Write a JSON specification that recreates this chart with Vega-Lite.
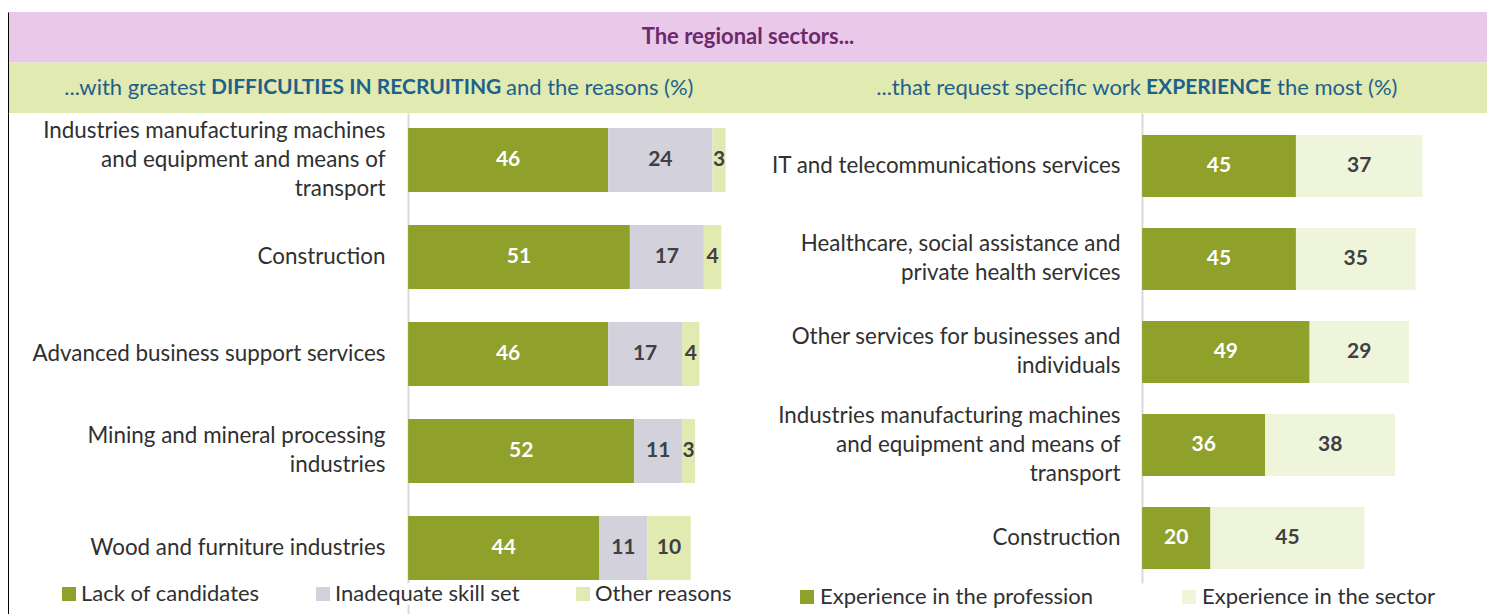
{
  "$schema": "https://vega.github.io/schema/vega-lite/v6.json",
  "padding": {"left": 8, "top": 12, "right": 0, "bottom": 0},
  "autosize": {"type": "pad"},
  "background": "white",
  "config": {
    "view": {"stroke": null},
    "font": "Lato",
    "axis": {"grid": false}
  },
  "datasets": {
    "reasons": [
      {"sector": "Industries manufacturing machines and equipment and means of transport", "Lack of candidates": 46, "Inadequate skill set": 24, "Other reasons": 3},
      {"sector": "Construction", "Lack of candidates": 51, "Inadequate skill set": 17, "Other reasons": 4},
      {"sector": "Advanced business support services", "Lack of candidates": 46, "Inadequate skill set": 17, "Other reasons": 4},
      {"sector": "Mining and mineral processing industries", "Lack of candidates": 52, "Inadequate skill set": 11, "Other reasons": 3},
      {"sector": "Wood and furniture industries", "Lack of candidates": 44, "Inadequate skill set": 11, "Other reasons": 10}
    ],
    "experience": [
      {"sector": "IT and telecommunications services", "Experience in the profession": 45, "Experience in the sector": 37},
      {"sector": "Healthcare, social assistance and private health services", "Experience in the profession": 45, "Experience in the sector": 35},
      {"sector": "Other services for businesses and individuals", "Experience in the profession": 49, "Experience in the sector": 29},
      {"sector": "Industries manufacturing machines and equipment and means of transport", "Experience in the profession": 36, "Experience in the sector": 38},
      {"sector": "Construction", "Experience in the profession": 20, "Experience in the sector": 45}
    ],
    "subtitle": [
      {"row": "sub", "side": "L", "pre": "...with greatest", "bold": "DIFFICULTIES IN RECRUITING", "post": "and the reasons (%)"},
      {"row": "sub", "side": "R", "pre": "...that request specific work", "bold": "EXPERIENCE", "post": "the most (%)"}
    ]
  },
  "columns": 1,
  "align": "none",
  "spacing": 0,
  "concat": [
    {
      "width": 1480,
      "height": 101,
      "layer": [
        {
          "data": {"values": [{"row": "title"}, {"row": "sub"}]},
          "mark": {"type": "rect"},
          "encoding": {
            "y": {"field": "row", "type": "nominal", "sort": ["title", "sub"],
                  "scale": {"paddingInner": 0, "paddingOuter": 0},
                  "axis": {"orient": "left", "labels": false, "ticks": false, "title": null, "domainColor": "black", "domainWidth": 1}},
            "fill": {"field": "row", "type": "nominal", "scale": {"domain": ["title", "sub"], "range": ["#e9c8ea", "#e1eab1"]}, "legend": null}
          }
        },
        {
          "data": {"values": [{"row": "title", "text": "The regional sectors..."}]},
          "mark": {"type": "text", "fontWeight": "bold", "fontSize": 22, "color": "#6b2a6b"},
          "encoding": {
            "y": {"field": "row", "type": "nominal", "sort": ["title", "sub"]},
            "text": {"field": "text"}
          }
        },
        {
          "data": {"name": "subtitle"},
          "mark": {"type": "text", "align": "right", "dx": -5, "fontSize": 22, "color": "#1f5f8b"},
          "encoding": {
            "x": {"field": "side", "type": "nominal", "scale": {"type": "point", "padding": 0.2914, "align": 0.3725},
                  "axis": {"orient": "top", "labels": false, "ticks": false, "title": null, "domainColor": "black", "domainWidth": 1}},
            "y": {"field": "row", "type": "nominal", "sort": ["title", "sub"]},
            "text": {"field": "pre"}
          }
        },
        {
          "data": {"name": "subtitle"},
          "mark": {"type": "text", "align": "left", "fontSize": 21, "fontWeight": "bold", "color": "#1f5f8b"},
          "encoding": {
            "x": {"field": "side", "type": "nominal"},
            "y": {"field": "row", "type": "nominal", "sort": ["title", "sub"]},
            "text": {"field": "bold"}
          }
        },
        {
          "data": {"name": "subtitle"},
          "transform": [{"filter": "datum.side === 'L'"}],
          "mark": {"type": "text", "align": "left", "dx": 295, "fontSize": 22, "color": "#1f5f8b"},
          "encoding": {
            "x": {"field": "side", "type": "nominal"},
            "y": {"field": "row", "type": "nominal", "sort": ["title", "sub"]},
            "text": {"field": "post"}
          }
        },
        {
          "data": {"name": "subtitle"},
          "transform": [{"filter": "datum.side === 'R'"}],
          "mark": {"type": "text", "align": "left", "dx": 131, "fontSize": 22, "color": "#1f5f8b"},
          "encoding": {
            "x": {"field": "side", "type": "nominal"},
            "y": {"field": "row", "type": "nominal", "sort": ["title", "sub"]},
            "text": {"field": "post"}
          }
        }
      ]
    },
    {
      "spacing": 10,
      "resolve": {"scale": {"color": "independent"}, "legend": {"color": "independent"}},
      "hconcat": [
        {
          "width": 748,
          "height": 501,
          "data": {"name": "reasons"},
          "transform": [
            {"fold": ["Lack of candidates", "Inadequate skill set", "Other reasons"], "as": ["reason", "pct"]},
            {"stack": "pct", "groupby": ["sector"], "as": ["v0", "v1"]}
          ],
          "layer": [
            {
              "mark": {"type": "bar"},
              "encoding": {
                "y": {"field": "sector", "type": "nominal", "sort": null,
                      "scale": {"paddingInner": 0.34, "paddingOuter": 0.2526, "align": 0.306},
                      "axis": {"orient": "left", "offset": -400, "title": null, "ticks": false, "tickSize": 0, "labelPadding": 23, "labelFontSize": 22.4, "labelColor": "#303030",
                               "labelLimit": 400, "labelLineHeight": 29, "domainColor": "#d9d9d9", "domainWidth": 2,
                               "labelOffset": {"condition": [
                                 {"test": "datum.label == 'Industries manufacturing machines and equipment and means of transport'", "value": -29},
                                 {"test": "datum.label == 'Mining and mineral processing industries'", "value": -14.5}
                               ], "value": 0},
                               "labelExpr": "datum.label == 'Industries manufacturing machines and equipment and means of transport' ? ['Industries manufacturing machines', 'and equipment and means of', 'transport'] : datum.label == 'Mining and mineral processing industries' ? ['Mining and mineral processing', 'industries'] : datum.label"}},
                "x": {"field": "v0", "type": "quantitative", "scale": {"domain": [-92, 80], "nice": false, "zero": false}, "axis": null},
                "x2": {"field": "v1"},
                "color": {"field": "reason", "type": "nominal",
                          "scale": {"domain": ["Lack of candidates", "Inadequate skill set", "Other reasons"], "range": ["#8fa12a", "#d3d2dc", "#e1eab1"]},
                          "legend": {"orient": "none", "legendX": 50, "legendY": 470, "direction": "horizontal", "title": null,
                                     "symbolType": "square", "symbolSize": 196, "symbolStrokeWidth": 0, "labelFontSize": 22,
                                     "labelColor": "#303030", "labelOffset": 1, "columnPadding": 52, "fillColor": "white", "padding": 0, "labelLimit": 400}}
              }
            },
            {
              "transform": [
                {"fold": ["v0", "v1"], "as": ["edge", "pos"]},
                {"aggregate": [{"op": "mean", "field": "pos", "as": "mid"}], "groupby": ["sector", "reason", "pct"]}
              ],
              "mark": {"type": "text", "fontWeight": "bold", "fontSize": 21},
              "encoding": {
                "y": {"field": "sector", "type": "nominal", "sort": null,
                      "axis": {"orient": "left", "offset": 0, "labels": false, "ticks": false, "title": null, "domainColor": "black", "domainWidth": 1}},
                "x": {"field": "mid", "type": "quantitative", "scale": {"domain": [-92, 80], "nice": false, "zero": false}},
                "text": {"field": "pct", "type": "quantitative"},
                "color": {"condition": {"test": "datum.reason === 'Lack of candidates'", "value": "white"}, "value": "#404040"}
              }
            }
          ],
          "resolve": {"axis": {"y": "independent"}}
        },
        {
          "width": 718,
          "height": 470,
          "data": {"name": "experience"},
          "transform": [
            {"fold": ["Experience in the profession", "Experience in the sector"], "as": ["kind", "pct"]},
            {"stack": "pct", "groupby": ["sector"], "as": ["v0", "v1"]}
          ],
          "layer": [
            {
              "mark": {"type": "bar"},
              "encoding": {
                "y": {"field": "sector", "type": "nominal", "sort": null,
                      "scale": {"paddingInner": 0.333, "paddingOuter": 0.1935, "align": 0.611},
                      "axis": {"orient": "left", "offset": -376, "title": null, "ticks": false, "tickSize": 0, "labelPadding": 22, "labelFontSize": 22.4, "labelColor": "#303030",
                               "labelLimit": 400, "labelLineHeight": 29, "domainColor": "#d9d9d9", "domainWidth": 2,
                               "labelOffset": {"condition": [
                                 {"test": "datum.label == 'Industries manufacturing machines and equipment and means of transport'", "value": -29},
                                 {"test": "datum.label == 'Healthcare, social assistance and private health services'", "value": -14.5},
                                 {"test": "datum.label == 'Other services for businesses and individuals'", "value": -14.5}
                               ], "value": 0},
                               "labelExpr": "datum.label == 'Industries manufacturing machines and equipment and means of transport' ? ['Industries manufacturing machines', 'and equipment and means of', 'transport'] : datum.label == 'Healthcare, social assistance and private health services' ? ['Healthcare, social assistance and', 'private health services'] : datum.label == 'Other services for businesses and individuals' ? ['Other services for businesses and', 'individuals'] : datum.label"}},
                "x": {"field": "v0", "type": "quantitative", "scale": {"domain": [-110, 100], "nice": false, "zero": false}, "axis": null},
                "x2": {"field": "v1"},
                "color": {"field": "kind", "type": "nominal",
                          "scale": {"domain": ["Experience in the profession", "Experience in the sector"], "range": ["#8fa12a", "#eff5da"]},
                          "legend": {"orient": "none", "legendX": 30, "legendY": 473, "direction": "horizontal", "title": null,
                                     "symbolType": "square", "symbolSize": 196, "symbolStrokeWidth": 0, "labelFontSize": 22,
                                     "labelColor": "#303030", "labelOffset": 2, "columnPadding": 84, "padding": 0, "labelLimit": 400}}
              }
            },
            {
              "transform": [
                {"fold": ["v0", "v1"], "as": ["edge", "pos"]},
                {"aggregate": [{"op": "mean", "field": "pos", "as": "mid"}], "groupby": ["sector", "kind", "pct"]}
              ],
              "mark": {"type": "text", "fontWeight": "bold", "fontSize": 21},
              "encoding": {
                "y": {"field": "sector", "type": "nominal", "sort": null},
                "x": {"field": "mid", "type": "quantitative", "scale": {"domain": [-110, 100], "nice": false, "zero": false}},
                "text": {"field": "pct", "type": "quantitative"},
                "color": {"condition": {"test": "datum.kind === 'Experience in the profession'", "value": "white"}, "value": "#404040"}
              }
            }
          ]
        }
      ]
    }
  ]
}
